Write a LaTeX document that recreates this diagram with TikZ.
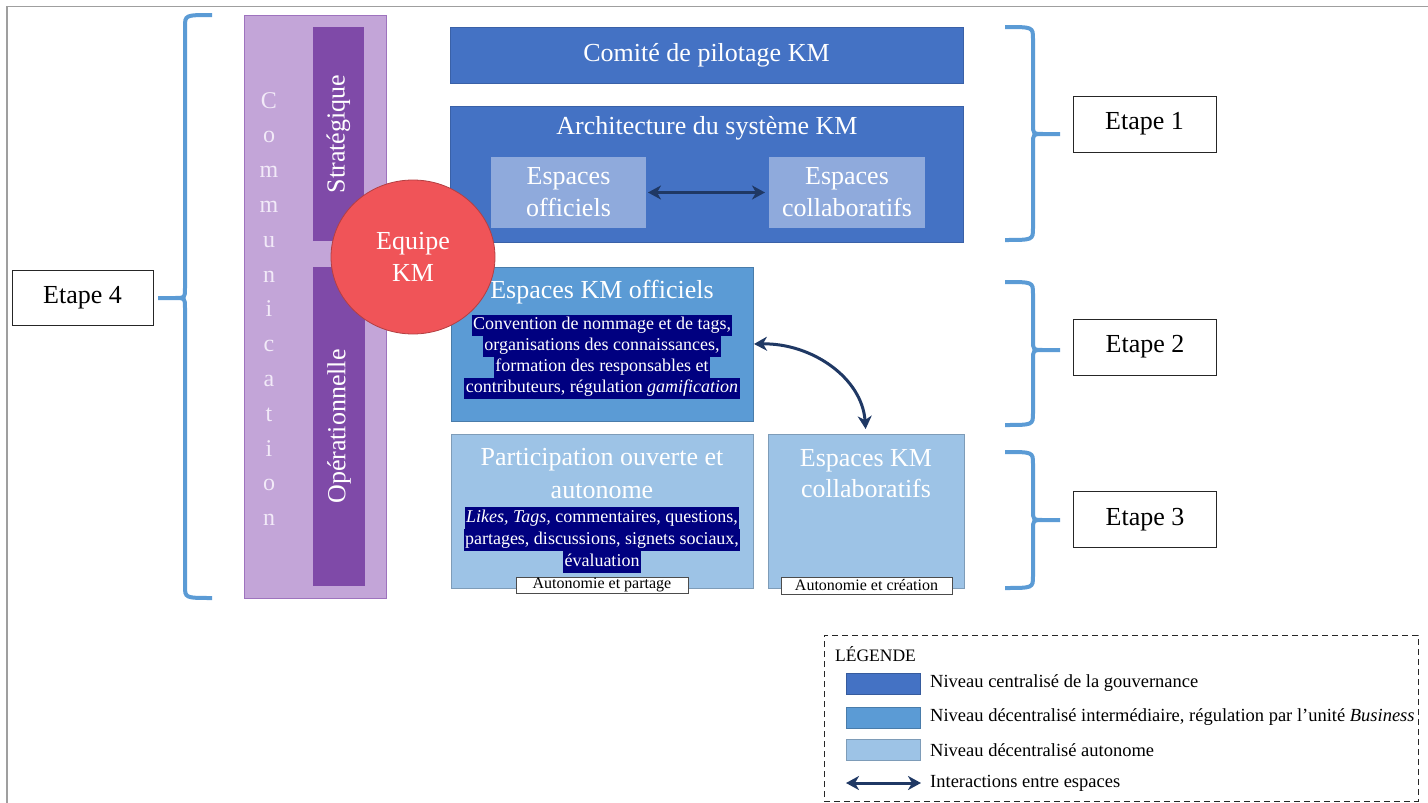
\documentclass[tikz,border=0pt]{standalone}
\usepackage{fontspec}
\setmainfont{Liberation Serif}
\usetikzlibrary{arrows.meta,shapes.geometric}
\definecolor{cdark}{HTML}{4472C4}
\definecolor{cmid}{HTML}{5B9BD5}
\definecolor{clight}{HTML}{9DC3E6}
\definecolor{cinner}{HTML}{8FAADC}
\definecolor{pout}{HTML}{C3A5D8}
\definecolor{pin}{HTML}{7F4AA8}
\definecolor{cred}{HTML}{F05458}
\definecolor{navy}{HTML}{1F3864}
\definecolor{hlc}{HTML}{000080}
\definecolor{brc}{HTML}{5B9BD5}
\definecolor{commtxt}{HTML}{F2EAF8}
\newcommand{\hlline}[1]{{\setlength{\fboxsep}{0pt}\colorbox{hlc}{\kern1.5pt\strut#1\kern1.5pt}}}
\newcommand{\bracepath}[7]{%
  \draw[bracestyle] (#1,#5) .. controls (#2,#5) and (#2,#5) .. (#2,#5+12) -- (#2,#6-10)
     .. controls (#2,#6) and (#2,#6) .. (#3,#6) -- (#4,#6)
     (#3,#6) .. controls (#2,#6) and (#2,#6) .. (#2,#6+10) -- (#2,#7-12)
     .. controls (#2,#7) and (#2,#7) .. (#1,#7);}
\tikzset{
  rbox/.style={rectangle, inner sep=0pt, outer sep=0pt, anchor=north west},
  big/.style={font=\fontsize{26}{32}\selectfont},
  wtxt/.style={text=white, inner sep=0pt, align=center, big},
  hltxt/.style={text=white, inner sep=0pt, align=center},
  etapebox/.style={draw=black!85, fill=white, line width=0.8pt, inner sep=0pt, big},
  bracestyle/.style={draw=brc, line width=4pt},
  darr/.style={draw=navy, line width=3pt, {Stealth[length=13pt,width=14pt,inset=4pt]}-{Stealth[length=13pt,width=14pt,inset=4pt]}},
  legtxt/.style={anchor=west, inner sep=0pt, font=\fontsize{18.5}{21}\selectfont},
  smallbox/.style={draw=black!70, fill=white, line width=0.8pt, inner sep=0pt, font=\fontsize{16}{17}\selectfont},
}
\begin{document}
\begin{tikzpicture}[x=1pt,y=-1pt]
\useasboundingbox (0,0) rectangle (1428,803);
% frame lines
\draw[gray!75, line width=1.5pt] (7,803) -- (7,6.5) -- (1428,6.5);

% purple communication column
\node[rbox, fill=pout, draw=pin!55!pout, line width=1pt, minimum width=142pt, minimum height=583pt] (comm) at (244,15) {};
\node[rbox, fill=pin, minimum width=51pt, minimum height=214pt] (strat) at (313,27) {};
\node[rbox, fill=pin, minimum width=52pt, minimum height=319pt] (oper) at (313,267) {};
\node[wtxt, rotate=90] (strattxt) at (strat.center) {Stratégique};
\node[wtxt, rotate=90] (opertxt) at (oper.center) {Opérationnelle};
\node[inner sep=0pt, align=center, text=commtxt, font=\fontsize{24}{34.8}\selectfont] (commtxt) at (269,309) {C\\o\\m\\m\\u\\n\\i\\c\\a\\t\\i\\o\\n};

% braces
\bracepath{212}{185}{175}{158}{15}{298}{598}
\bracepath{1005}{1033}{1043}{1060}{27}{134}{240}
\bracepath{1005}{1033}{1043}{1060}{282}{350}{425}
\bracepath{1005}{1033}{1043}{1060}{452}{520}{588}

% etape boxes
\node[etapebox, minimum width=141pt, minimum height=55pt] (e4) at (82.5,297.5) {Etape 4};
\node[etapebox, minimum width=143pt, minimum height=56pt] (e1) at (1144.5,124) {Etape 1};
\node[etapebox, minimum width=143pt, minimum height=56pt] (e2) at (1145,347) {Etape 2};
\node[etapebox, minimum width=143pt, minimum height=56pt] (e3) at (1145,519.5) {Etape 3};

% top blue boxes
\node[rbox, fill=cdark, draw=cdark!85!black, line width=0.6pt, minimum width=513pt, minimum height=56pt] (comite) at (450,27) {};
\node[wtxt] (comitetxt) at (comite.center) {Comité de pilotage KM};
\node[rbox, fill=cdark, draw=cdark!85!black, line width=0.6pt, minimum width=513pt, minimum height=136pt] (arch) at (450,106) {};
\node[wtxt] (archtxt) at (707,128) {Architecture du système KM};
\node[rbox, fill=cinner, minimum width=155pt, minimum height=71pt] (esoff) at (491,157) {};
\node[wtxt] (esofftxt) at (esoff.center) {Espaces\\officiels};
\node[rbox, fill=cinner, minimum width=156pt, minimum height=71pt] (escol) at (769,157) {};
\node[wtxt] (escoltxt) at (escol.center) {Espaces\\collaboratifs};
\draw[darr, shorten <=2pt, shorten >=4pt] (esoff.east) -- (escol.west);

% Espaces KM officiels
\node[rbox, fill=cmid, draw=cmid!80!black, line width=0.6pt, minimum width=302pt, minimum height=154pt] (kmoff) at (451,267) {};
\node[wtxt] (kmofftxt) at (602,292) {Espaces KM officiels};
\node[hltxt, font=\fontsize{18}{21}\selectfont] (kmoffhl) at (602,356.5) {\hlline{Convention de nommage et de tags,}\\\hlline{organisations des connaissances,}\\\hlline{formation des responsables et}\\\hlline{contributeurs, régulation \textit{gamification}}};

% Participation
\node[rbox, fill=clight, draw=clight!80!black, line width=0.6pt, minimum width=302pt, minimum height=154pt] (part) at (451,434) {};
\node[wtxt, font=\fontsize{26}{33}\selectfont] (parttxt) at (602,474) {Participation ouverte et\\autonome};
\node[hltxt, font=\fontsize{18}{22}\selectfont] (parthl) at (602,540) {\hlline{\textit{Likes, Tags,} commentaires, questions,}\\\hlline{partages, discussions, signets sociaux,}\\\hlline{évaluation}};
\node[smallbox, minimum width=172pt, minimum height=16pt] (autp) at (602,585) {Autonomie et partage};

% Espaces KM collaboratifs
\node[rbox, fill=clight, draw=clight!80!black, line width=0.6pt, minimum width=196pt, minimum height=154pt] (kmcol) at (768,434) {};
\node[wtxt, font=\fontsize{26}{31}\selectfont] (kmcoltxt) at (866,474) {Espaces KM\\collaboratifs};
\node[smallbox, minimum width=171pt, minimum height=17pt] (autc) at (866.5,585.5) {Autonomie et création};

% curved arrow
\draw[darr, shorten <=1pt, shorten >=5pt] (kmoff.east) .. controls (812,343) and (862,378) .. (kmcol.north);

% Equipe KM
\node[ellipse, fill=cred, draw=cred!75!black, line width=0.8pt, minimum width=164pt, minimum height=154pt, inner sep=0pt, text=white, align=center, font=\fontsize{26}{32}\selectfont] (equipe) at (413,257) {Equipe\\KM};

% legend
\node[rbox, draw=black!85, dashed, dash pattern=on 6pt off 4pt, line width=1pt, minimum width=594pt, minimum height=166pt] (leg) at (824,635) {};
\node[legtxt, font=\fontsize{17.5}{20}\selectfont] (legtitle) at (835,654) {LÉGENDE};
\node[rbox, fill=cdark, draw=cdark!80!black, line width=0.6pt, minimum width=74pt, minimum height=21pt] (sw1) at (846,673) {};
\node[rbox, fill=cmid, draw=cmid!80!black, line width=0.6pt, minimum width=74pt, minimum height=21pt] (sw2) at (846,707) {};
\node[rbox, fill=clight, draw=clight!80!black, line width=0.6pt, minimum width=74pt, minimum height=21pt] (sw3) at (846,739) {};
\node[legtxt] (lt1) at (930,683) {Niveau centralisé de la gouvernance};
\node[legtxt] (lt2) at (930,717) {Niveau décentralisé intermédiaire, régulation par l’unité \textit{Business}};
\node[legtxt] (lt3) at (930,750) {Niveau décentralisé autonome};
\node[legtxt] (lt4) at (930,783) {Interactions entre espaces};
\coordinate (la) at (846,783);
\coordinate (lb) at (921,783);
\draw[darr] (la) -- (lb);
\end{tikzpicture}
\end{document}
